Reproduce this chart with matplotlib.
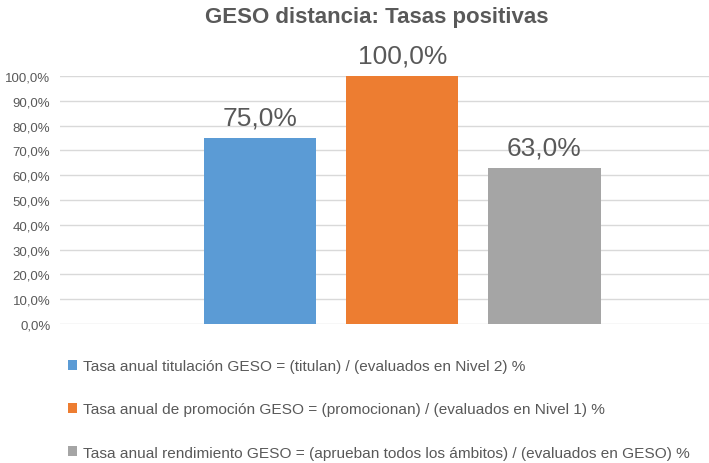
import matplotlib.pyplot as plt
from matplotlib.ticker import FuncFormatter

# ── GESO distancia: Tasas positivas ──
series = ['Tasa anual titulación GESO = (titulan) / (evaluados en Nivel 2) %',
          'Tasa anual de promoción GESO = (promocionan) / (evaluados en Nivel 1) %',
          'Tasa anual rendimiento GESO = (aprueban todos los ámbitos) / (evaluados en GESO) %']
values = [75.0, 100.0, 63.0]
colors = ['#5B9BD5', '#ED7D31', '#A5A5A5']

plt.rcParams['font.family'] = ['Liberation Sans', 'DejaVu Sans']
text_gray = '#595959'

fig = plt.figure(figsize=(7.09, 4.64), dpi=100)
ax = fig.add_axes([60 / 709, 1 - 325 / 464, 1 - 60 / 709, (325 - 77) / 464])

bars = []
for i, (v, c) in enumerate(zip(values, colors)):
    b = ax.bar(i, v, width=0.79, color=c, zorder=3)
    bars.append(b[0])
    ax.annotate(f'{v:.1f}%'.replace('.', ','), (i, v), xytext=(0, 6),
                textcoords='offset points', ha='center', va='bottom',
                fontsize=19, color=text_gray)

ax.set_xlim(-1.408, 3.158)
ax.set_ylim(0, 100)
ax.set_yticks(range(0, 101, 10))
ax.yaxis.set_major_formatter(FuncFormatter(lambda y, _: f'{y:.1f}%'.replace('.', ',')))
ax.tick_params(axis='y', length=0, labelsize=9.5, labelcolor=text_gray, pad=7)
ax.set_xticks([])
ax.grid(True, axis='y', color='#D9D9D9', linewidth=1, zorder=0)
for s in ax.spines.values():
    s.set_visible(False)

fig.suptitle('GESO distancia: Tasas positivas', x=377 / 709, y=1 - 7 / 464,
             va='top', fontsize=16, fontweight='bold', color=text_gray)

fig.legend(bars, series, loc='upper left', bbox_to_anchor=(62 / 709, 1 - 354 / 464),
           frameon=False, fontsize=11.1, labelcolor=text_gray,
           handlelength=0.6, handleheight=0.6, handletextpad=0.35,
           labelspacing=1.9, borderaxespad=0)

plt.savefig('out.png', dpi=100)
plt.close()
print("Saved: out.png")
